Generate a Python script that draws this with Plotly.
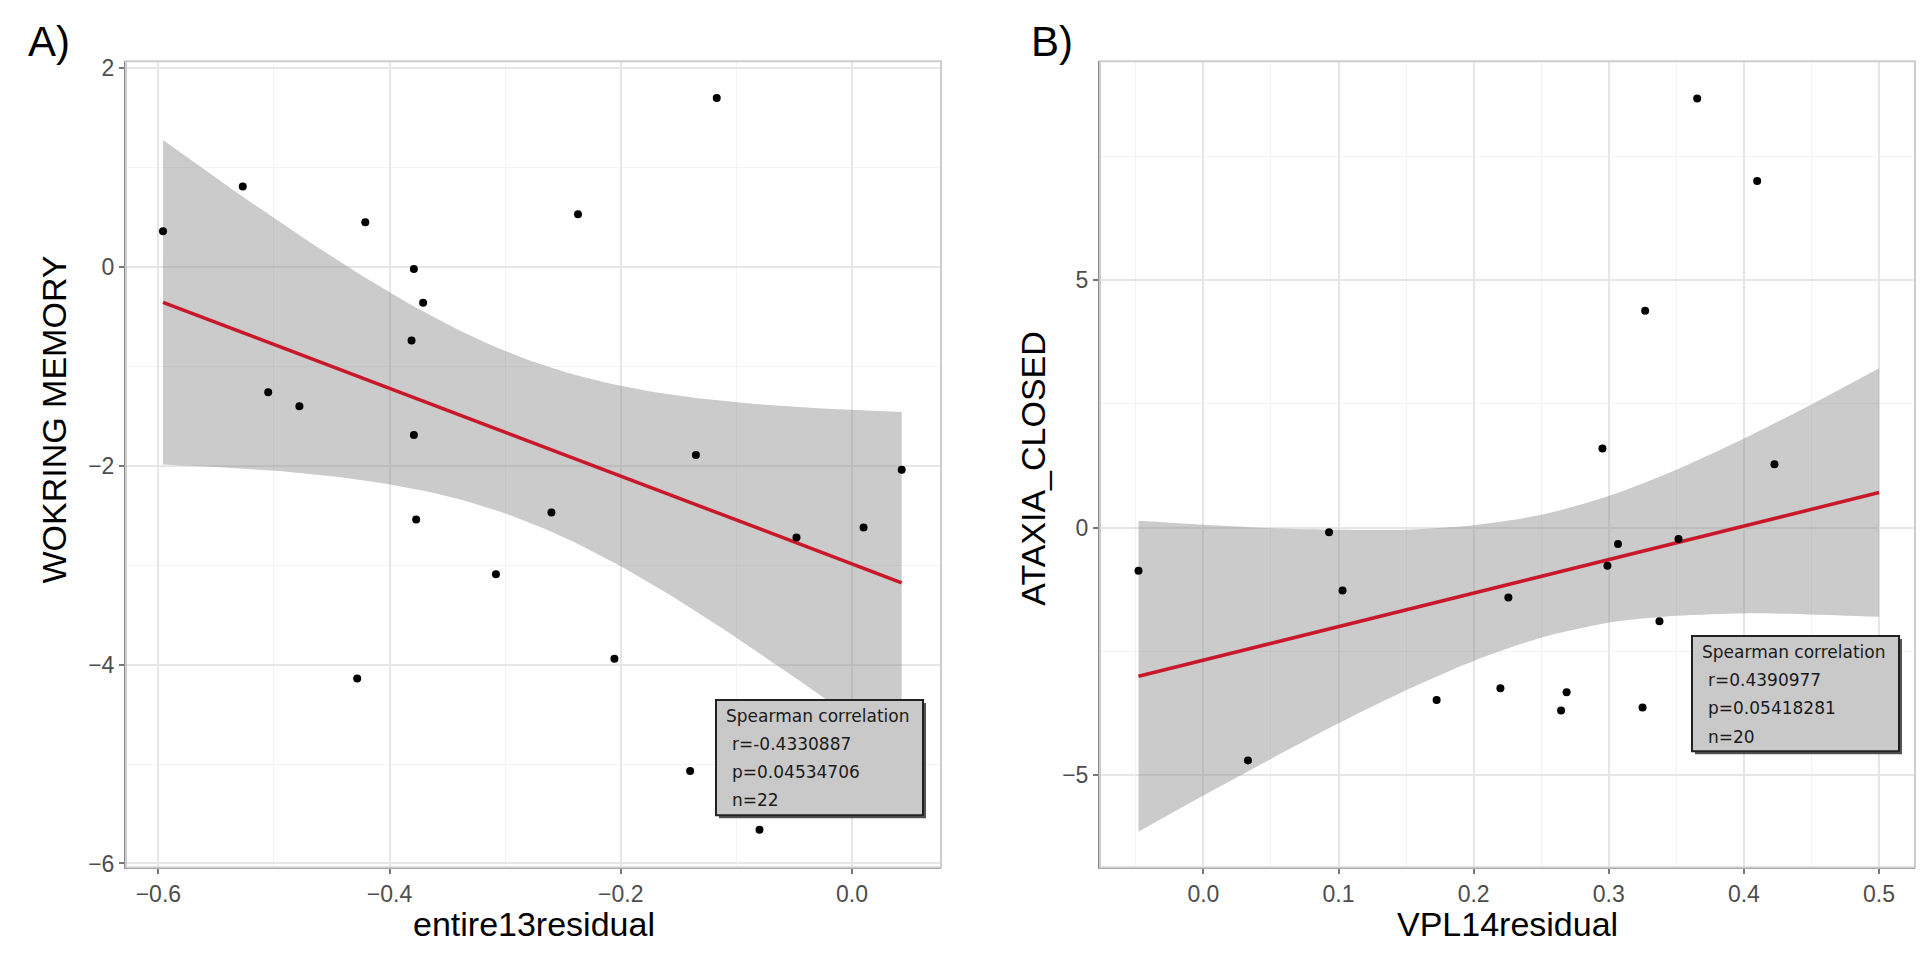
import numpy as np
import plotly.graph_objects as go

W, H = 1929, 958

# ---------------- data ----------------
a_x = [-0.596, -0.527, -0.421, -0.237, -0.117, -0.379, -0.371, -0.381, -0.505, -0.478, -0.379,
       -0.135, 0.043, -0.377, -0.260, -0.048, 0.010, -0.308, -0.2055, -0.428, -0.140, -0.080]
a_y = [0.36, 0.81, 0.45, 0.53, 1.70, -0.02, -0.36, -0.74, -1.26, -1.40, -1.69,
       -1.89, -2.04, -2.54, -2.47, -2.72, -2.62, -3.09, -3.94, -4.14, -5.07, -5.66]

b_x = [0.3654, 0.4098, 0.3269, 0.2953, 0.4226, -0.048, 0.093, 0.103, 0.033, 0.2257,
       0.3068, 0.3516, 0.299, 0.3375, 0.1726, 0.2198, 0.2688, 0.2647, 0.325, 0.5]
b_y = [8.67, 7.00, 4.38, 1.60, 1.28, -0.87, -0.09, -1.27, -4.70, -1.41,
       -0.33, -0.23, -0.77, -1.89, -3.48, -3.24, -3.32, -3.69, -3.63, -3.30]

# panel B fitted line and confidence band
fit_b_x = [-0.048, 0.5]
fit_b_y = [-3.00, 0.71]
band_b_x = [-0.048, 0.0, 0.05, 0.1, 0.15, 0.2, 0.25, 0.3, 0.35, 0.4, 0.45, 0.5]
band_b_upper = [0.14, 0.06, -0.01, -0.04, -0.04, 0.05, 0.26, 0.64, 1.17, 1.80, 2.49, 3.22]
band_b_lower = [-6.14, -5.41, -4.67, -3.95, -3.28, -2.69, -2.22, -1.92, -1.78, -1.73, -1.75, -1.80]

a_xticks = [-0.6, -0.4, -0.2, 0.0]
a_yticks = [-6, -4, -2, 0, 2]
b_xticks = [0.0, 0.1, 0.2, 0.3, 0.4, 0.5]
b_yticks = [-5, 0, 5]

a_stats = ["Spearman correlation", "r=-0.4330887", "p=0.04534706", "n=22"]
b_stats = ["Spearman correlation", "r=0.4390977", "p=0.05418281", "n=20"]

# ---------------- panel A linear fit (like geom_smooth lm) ----------------
ax = np.array(a_x); ay = np.array(a_y)
n = len(ax)
b1, b0 = np.polyfit(ax, ay, 1)
res = ay - (b0 + b1 * ax)
s = np.sqrt(np.sum(res ** 2) / (n - 2))
xm = ax.mean(); sxx = np.sum((ax - xm) ** 2)
t_a = 2.085963  # t(0.975, df=20)
gx = np.linspace(ax.min(), ax.max(), 80)
gy = b0 + b1 * gx
se = s * np.sqrt(1 / n + (gx - xm) ** 2 / sxx)
up_a = gy + t_a * se
lo_a = gy - t_a * se

# ---------------- figure ----------------
def px(x): return x / W
def py(y): return 1 - y / H

A_L, A_R, TOP, BOT = 118, 933, 48, 867
B_L, B_R = 1092, 1907

RED = "#c8182a"
BAND = "rgba(140,140,140,0.45)"

fig = go.Figure()
# panel A
fig.add_trace(go.Scatter(x=np.concatenate([gx, gx[::-1]]), y=np.concatenate([up_a, lo_a[::-1]]),
                         fill="toself", fillcolor=BAND, line=dict(width=0), mode="lines",
                         hoverinfo="skip", xaxis="x", yaxis="y"))
fig.add_trace(go.Scatter(x=gx, y=gy, mode="lines", line=dict(color=RED, width=3.5), xaxis="x", yaxis="y"))
fig.add_trace(go.Scatter(x=a_x, y=a_y, mode="markers", marker=dict(color="black", size=8),
                         xaxis="x", yaxis="y"))
# panel B
fig.add_trace(go.Scatter(x=band_b_x, y=band_b_lower, mode="lines",
                         line=dict(width=0, shape="spline", smoothing=0.8),
                         hoverinfo="skip", xaxis="x2", yaxis="y2"))
fig.add_trace(go.Scatter(x=band_b_x, y=band_b_upper, mode="lines", fill="tonexty", fillcolor=BAND,
                         line=dict(width=0, shape="spline", smoothing=0.8),
                         hoverinfo="skip", xaxis="x2", yaxis="y2"))
fig.add_trace(go.Scatter(x=fit_b_x, y=fit_b_y, mode="lines", line=dict(color=RED, width=3.5),
                         xaxis="x2", yaxis="y2"))
fig.add_trace(go.Scatter(x=b_x, y=b_y, mode="markers", marker=dict(color="black", size=8),
                         xaxis="x2", yaxis="y2"))

tickfont = dict(family="Liberation Sans, Arial, sans-serif", size=23, color="#4d4d4d")
MAJ = "#e6e6e6"; MIN = "#f3f3f3"

def axis(domain, rng, tickvals, minor_dtick, fmt, anchor):
    return dict(domain=domain, range=rng, tickmode="array", tickvals=tickvals, tickformat=fmt,
                showgrid=True, gridcolor=MAJ, gridwidth=1.5, zeroline=False,
                showline=True, linecolor="#8a8a8a", linewidth=2, mirror=False,
                ticks="outside", ticklen=5, tickwidth=1.5, tickcolor="#777",
                tickfont=tickfont, anchor=anchor,
                minor=dict(tickmode="linear", dtick=minor_dtick, tick0=0, showgrid=True,
                           gridcolor=MIN, gridwidth=1, ticks=""))

fig.update_layout(
    width=W, height=H, margin=dict(l=0, r=0, t=0, b=0),
    paper_bgcolor="white", plot_bgcolor="white", showlegend=False,
    xaxis=axis([px(A_L), px(A_R)], [-0.628, 0.077], a_xticks, 0.1, ".1f", "y"),
    yaxis=axis([py(BOT), py(TOP)], [-6.04, 2.07], a_yticks, 1, "d", "x"),
    xaxis2=axis([px(B_L), px(B_R)], [-0.0765, 0.5266], b_xticks, 0.05, ".1f", "y2"),
    yaxis2=axis([py(BOT), py(TOP)], [-6.86, 9.42], b_yticks, 2.5, "d", "x2"),
)

shapes = []
for L, R in [(A_L, A_R), (B_L, B_R)]:
    shapes.append(dict(type="rect", xref="paper", yref="paper", x0=px(L), x1=px(R), y0=py(BOT), y1=py(TOP),
                       line=dict(color="#cdcdcd", width=2), fillcolor="rgba(0,0,0,0)", layer="above"))

annotations = []
def stat_box(left, top, lines):
    w, h = 207, 117
    shapes.append(dict(type="rect", xref="paper", yref="paper", x0=px(left + 3), x1=px(left + w + 3),
                       y0=py(top + h + 3), y1=py(top + 3), line=dict(width=0), fillcolor="#555", layer="above"))
    shapes.append(dict(type="rect", xref="paper", yref="paper", x0=px(left), x1=px(left + w),
                       y0=py(top + h), y1=py(top), line=dict(color="#222", width=2),
                       fillcolor="#c9c9c9", layer="above"))
    offs = [16, 45, 73, 102]
    for i, (t, o) in enumerate(zip(lines, offs)):
        annotations.append(dict(xref="paper", yref="paper", x=px(left + (8 if i == 0 else 14)), y=py(top + o),
                                text=t, showarrow=False, xanchor="left", yanchor="middle",
                                font=dict(family="DejaVu Sans, sans-serif", size=17, color="#1a1a1a")))

stat_box(708, 697, a_stats)
stat_box(1684, 632, b_stats)

titlefont = dict(family="Liberation Sans, Arial, sans-serif", size=34, color="black")
annotations += [
    dict(xref="paper", yref="paper", x=px((A_L + A_R) / 2), y=py(924), text="entire13residual",
         showarrow=False, xanchor="center", yanchor="middle", font=titlefont),
    dict(xref="paper", yref="paper", x=px((B_L + B_R) / 2), y=py(924), text="VPL14residual",
         showarrow=False, xanchor="center", yanchor="middle", font=titlefont),
    dict(xref="paper", yref="paper", x=px(46), y=py(412), text="WOKRING MEMORY",
         textangle=-90, showarrow=False, xanchor="center", yanchor="middle", font=titlefont),
    dict(xref="paper", yref="paper", x=px(1025), y=py(462), text="ATAXIA_CLOSED",
         textangle=-90, showarrow=False, xanchor="center", yanchor="middle", font=titlefont),
    dict(xref="paper", yref="paper", x=px(18), y=py(2), text="A)", showarrow=False,
         xanchor="left", yanchor="top",
         font=dict(family="Liberation Sans, Arial, sans-serif", size=42, color="black")),
    dict(xref="paper", yref="paper", x=px(1021), y=py(2), text="B)", showarrow=False,
         xanchor="left", yanchor="top",
         font=dict(family="Liberation Sans, Arial, sans-serif", size=42, color="black")),
]

fig.update_layout(shapes=shapes, annotations=annotations)
fig.write_html("out.html")
